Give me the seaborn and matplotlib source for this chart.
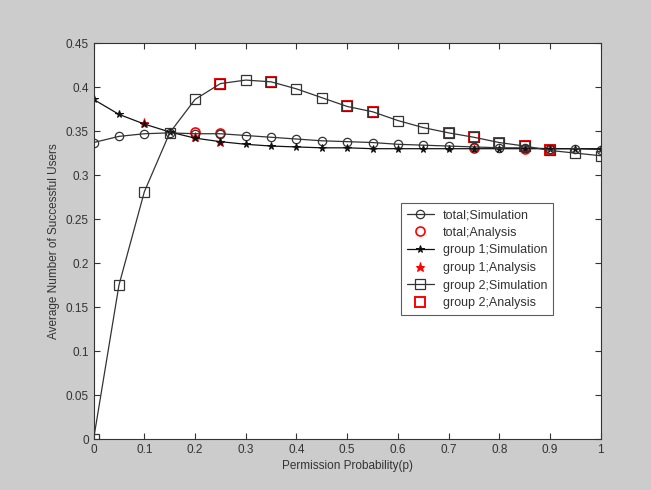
import numpy as np
import pandas as pd
import seaborn as sns
import matplotlib
matplotlib.use("Agg")
import matplotlib.pyplot as plt

# ---- data ----
p = [0.0, 0.05, 0.1, 0.15, 0.2, 0.25, 0.3, 0.35, 0.4, 0.45, 0.5,
     0.55, 0.6, 0.65, 0.7, 0.75, 0.8, 0.85, 0.9, 0.95, 1.0]
total_sim = [0.337, 0.344, 0.347, 0.348, 0.347, 0.347, 0.345, 0.343, 0.341, 0.339, 0.338,
             0.337, 0.335, 0.334, 0.333, 0.332, 0.331, 0.331, 0.330, 0.330, 0.329]
group1_sim = [0.386, 0.369, 0.358, 0.349, 0.342, 0.338, 0.335, 0.333, 0.332, 0.331, 0.331,
              0.330, 0.330, 0.330, 0.330, 0.330, 0.330, 0.330, 0.330, 0.330, 0.330]
group2_sim = [0.0, 0.175, 0.281, 0.348, 0.386, 0.404, 0.408, 0.406, 0.398, 0.388, 0.378,
              0.372, 0.362, 0.354, 0.348, 0.343, 0.337, 0.333, 0.328, 0.325, 0.322]

total_ana_p = [0.2, 0.25, 0.75, 0.85, 0.9]
total_ana = [0.349, 0.348, 0.331, 0.330, 0.329]
group1_ana_p = [0.1, 0.2, 0.25]
group1_ana = [0.359, 0.343, 0.338]
group2_ana_p = [0.25, 0.35, 0.5, 0.55, 0.7, 0.75, 0.8, 0.85, 0.9]
group2_ana = [0.404, 0.406, 0.378, 0.372, 0.348, 0.343, 0.337, 0.333, 0.328]

xticks = [0, 0.1, 0.2, 0.3, 0.4, 0.5, 0.6, 0.7, 0.8, 0.9, 1]
xticklabels = ["0", "0.1", "0.2", "0.3", "0.4", "0.5", "0.6", "0.7", "0.8", "0.9", "1"]
yticks = [0, 0.05, 0.1, 0.15, 0.2, 0.25, 0.3, 0.35, 0.4, 0.45]
yticklabels = ["0", "0.05", "0.1", "0.15", "0.2", "0.25", "0.3", "0.35", "0.4", "0.45"]

# ---- style ----
sns.set_style("white")
plt.rcParams['font.family'] = ['Liberation Sans', 'DejaVu Sans']

fig = plt.figure(figsize=(6.51, 4.90), dpi=100, facecolor="#cccccc")
ax = fig.add_axes([0.1438, 0.104, 0.779, 0.808])
ax.set_facecolor("white")

lw = 0.9
sns.lineplot(x=p, y=total_sim, ax=ax, color="#333333", linewidth=lw, marker="o",
             markersize=6, markerfacecolor="none", markeredgecolor="#333333",
             markeredgewidth=0.9, label="total;Simulation", zorder=4)
sns.lineplot(x=total_ana_p, y=total_ana, ax=ax, linestyle="none", marker="o",
             markersize=6.5, markerfacecolor="none", markeredgecolor="red",
             markeredgewidth=1.2, label="total;Analysis", zorder=3)
sns.lineplot(x=p, y=group1_sim, ax=ax, color="#111111", linewidth=lw, marker="*",
             markersize=5.5, markerfacecolor="#111111", markeredgecolor="#111111",
             label="group 1;Simulation", zorder=4)
sns.lineplot(x=group1_ana_p, y=group1_ana, ax=ax, linestyle="none", marker="*",
             markersize=6.5, markerfacecolor="red", markeredgecolor="red",
             label="group 1;Analysis", zorder=3)
sns.lineplot(x=p, y=group2_sim, ax=ax, color="#333333", linewidth=lw, marker="s",
             markersize=6.5, markerfacecolor="none", markeredgecolor="#333333",
             markeredgewidth=0.9, label="group 2;Simulation", zorder=4)
sns.lineplot(x=group2_ana_p, y=group2_ana, ax=ax, linestyle="none", marker="s",
             markersize=7, markerfacecolor="none", markeredgecolor="red",
             markeredgewidth=1.4, label="group 2;Analysis", zorder=3)

ax.set_xlim(0, 1)
ax.set_ylim(0, 0.45)
ax.set_xticks(xticks)
ax.set_xticklabels(xticklabels)
ax.set_yticks(yticks)
ax.set_yticklabels(yticklabels)
ax.tick_params(direction="in", length=4, width=0.8, top=True, right=True,
               labelsize=8.5, labelcolor="#333333", color="#333333",
               bottom=True, left=True)
for s in ax.spines.values():
    s.set_visible(True)
    s.set_color("#333333")
    s.set_linewidth(0.8)
    s.set_zorder(5)

ax.set_xlabel("Permission Probability(p)", fontsize=8.5, color="#333333", labelpad=3)
ax.set_ylabel("Average Number of Successful Users", fontsize=8.5, color="#333333", labelpad=4)

leg = ax.legend(loc="upper left", bbox_to_anchor=(0.594, 0.611), fontsize=9,
                frameon=True, fancybox=False, borderpad=0.45, labelspacing=0.45,
                handlelength=2.2, handletextpad=0.7)
leg.get_frame().set_edgecolor("#333333")
leg.get_frame().set_linewidth(0.8)
leg.set_zorder(6)
for t in leg.get_texts():
    t.set_color("#333333")

fig.savefig("out.png", dpi=100, facecolor=fig.get_facecolor())
